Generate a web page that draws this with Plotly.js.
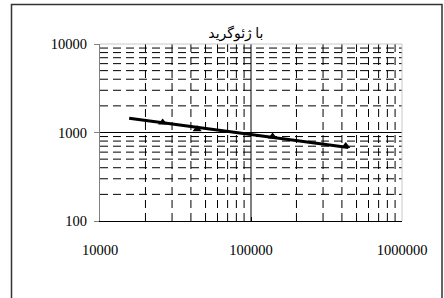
<!DOCTYPE html>
<html>
<head>
<meta charset="utf-8">
<script src="https://cdn.plot.ly/plotly-3.0.1.min.js"></script>
<style>html,body{margin:0;padding:0;background:#fff;}#chart{width:444px;height:298px;}</style>
</head>
<body>
<div id="chart"></div>
<script>
// ---- data ----
const titleText = "با ژئوگرید";
const pointX = [26000, 44000, 139000, 424000];
const pointY = [1297, 1089, 901, 706];
const trendX = [15600, 441000];
const trendY = [1450, 678];
const xTickVals = [10000, 100000, 1000000];
const xTickText = ["10000", "100000", "1000000"];
const yTickVals = [100, 1000, 10000];
const yTickText = ["100", "1000", "10000"];
const xMinorGrid = [20000,30000,40000,50000,60000,70000,80000,90000,200000,300000,400000,500000,600000,700000,800000,900000];
const yMinorGrid = [200,300,400,500,600,700,800,900,2000,3000,4000,5000,6000,7000,8000,9000];
const xMajorGrid = [100000];
const yMajorGrid = [1000];
const xRange = [10000, 1000000];
const yRange = [100, 10000];

function gridTrace(vals, vertical, dash) {
  const xs = [], ys = [];
  vals.forEach(v => {
    if (vertical) { xs.push(v, v, null); ys.push(yRange[0], yRange[1], null); }
    else { xs.push(xRange[0], xRange[1], null); ys.push(v, v, null); }
  });
  return {x: xs, y: ys, mode: 'lines', type: 'scatter', hoverinfo: 'skip', showlegend: false,
          connectgaps: false, line: {color: '#000', width: 1, dash: dash}};
}

const serif = 'Times New Roman, Liberation Serif, serif';
const traces = [
  gridTrace(xMinorGrid, true, '8px,5px'),
  gridTrace(yMinorGrid, false, '8px,5px'),
  gridTrace(xMajorGrid, true, 'solid'),
  gridTrace(yMajorGrid, false, 'solid'),
  {x: trendX, y: trendY, mode: 'lines', type: 'scatter', showlegend: false,
   line: {color: '#000', width: 3}},
  {x: pointX, y: pointY, mode: 'markers', type: 'scatter', showlegend: false,
   marker: {symbol: 'triangle-up', size: 8, color: '#000'}}
];

const layout = {
  width: 444, height: 298,
  margin: {l: 100, r: 42, t: 44, b: 77},
  paper_bgcolor: '#fff', plot_bgcolor: '#fff',
  showlegend: false,
  title: {text: titleText, font: {family: serif + ', DejaVu Sans', size: 14, color: '#000'},
          x: 0.45, xref: 'paper', xanchor: 'center', y: 1 - 33/298, yref: 'container', yanchor: 'middle'},
  xaxis: {type: 'log', range: [Math.log10(xRange[0]), Math.log10(xRange[1])],
          tickvals: xTickVals, ticktext: xTickText, showgrid: false, zeroline: false,
          showline: true, linecolor: '#000', linewidth: 1,
          ticks: 'inside', ticklen: 4, tickcolor: '#000',
          ticklabelstandoff: 16,
          tickfont: {family: serif, size: 14.5, color: '#000'}},
  yaxis: {type: 'log', range: [Math.log10(yRange[0]), Math.log10(yRange[1])],
          tickvals: yTickVals, ticktext: yTickText, showgrid: false, zeroline: false,
          showline: true, linecolor: '#808080', linewidth: 1,
          ticks: 'outside', ticklen: 5, tickcolor: '#808080',
          ticklabelstandoff: 4,
          tickfont: {family: serif, size: 14.5, color: '#000'}},
  shapes: [
    {type: 'line', xref: 'paper', yref: 'paper', x0: 0, x1: 1, y0: 1, y1: 1, line: {color: '#c8c8c8', width: 1}},
    {type: 'line', xref: 'paper', yref: 'paper', x0: 1, x1: 1, y0: 0, y1: 1, line: {color: '#c8c8c8', width: 1}},
    {type: 'rect', xref: 'paper', yref: 'paper', x0: (11.5-100)/302, x1: (442-100)/302,
     y0: -0.6, y1: (221-4.5)/177, line: {color: '#333', width: 1.5}}
  ]
};

Plotly.newPlot('chart', traces, layout, {staticPlot: true, displayModeBar: false});
</script>
</body>
</html>
